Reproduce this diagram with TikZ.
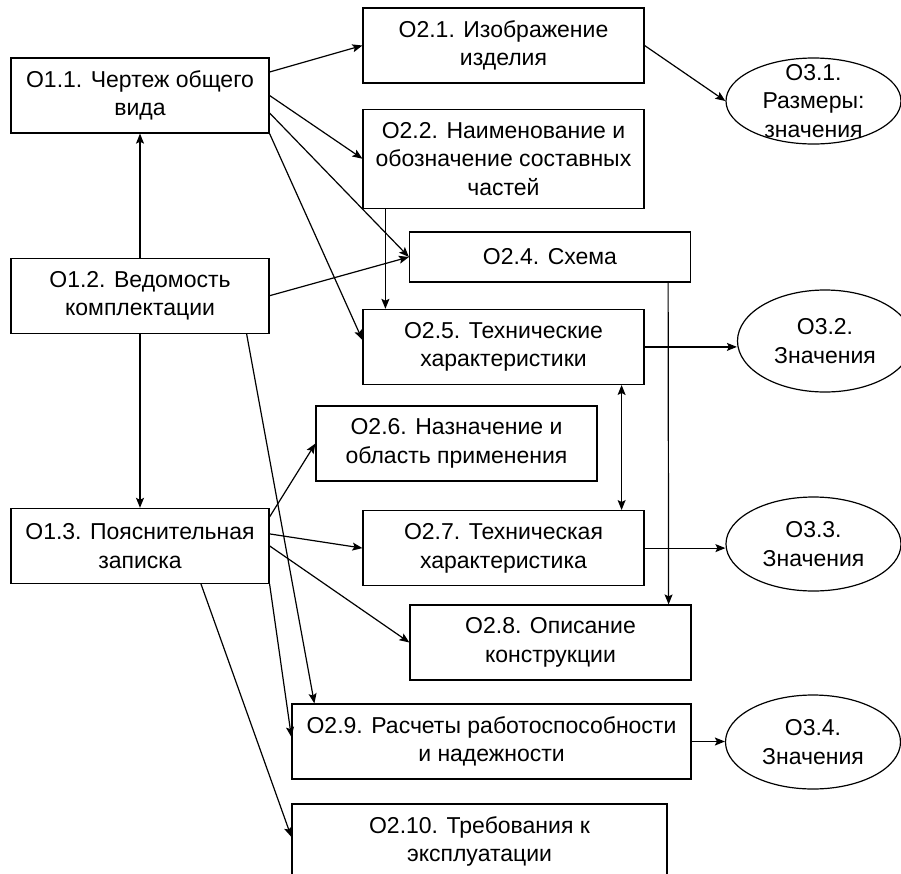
\documentclass[tikz,border=0pt]{standalone}
\usepackage{fontspec}
\setmainfont{Liberation Sans}
\usetikzlibrary{shapes.geometric, arrows.meta, positioning, calc}

\begin{document}
\begin{tikzpicture}[
    x=0.5pt, y=-0.5pt,
    font=\fontsize{11.5}{14.3}\selectfont,
    box/.style={rectangle, draw, line width=0.6pt, align=center,
                minimum width=129pt, minimum height=37.5pt, inner sep=2pt},
    wbox/.style={box, minimum width=140.5pt},
    oval/.style={ellipse, draw, line width=0.6pt, inner sep=0pt,
                 minimum width=87.5pt, minimum height=47pt},
    ovaltext/.style={align=center},
    arrow/.style={-{Stealth[length=5pt, width=4pt, inset=1pt]}, line width=0.6pt},
    biarrow/.style={{Stealth[length=5pt, width=4pt, inset=1pt]}-{Stealth[length=5pt, width=4pt, inset=1pt]}, line width=0.6pt}
]
    \useasboundingbox (0,0) rectangle (901,874);

    % first level
    \node[box] (o11) at (140,95.5) {О1.1. Чертеж общего\\вида};
    \node[box, below=62pt of o11] (o12) {О1.2. Ведомость\\комплектации};
    \node[box, below=87pt of o12] (o13) {О1.3. Пояснительная\\записка};

    % second level
    \node[wbox] (o21) at (503.5,45.5) {О2.1. Изображение\\изделия};
    \node[wbox, minimum height=49.5pt, below=12.5pt of o21] (o22) {О2.2. Наименование и\\обозначение составных\\частей};
    \node[wbox, minimum height=25pt] (o24) at (550,257) {О2.4. Схема};
    \node[wbox, below=50pt of o22] (o25) {О2.5. Технические\\характеристики};
    \node[wbox] (o26) at (456.5,443.5) {О2.6. Назначение и\\область применения};
    \node[wbox, below=62.5pt of o25] (o27) {О2.7. Техническая\\характеристика};
    \node[wbox] (o28) at (550.5,642.5) {О2.8. Описание\\конструкции};
    \node[box, minimum width=199.5pt] (o29) at (491.5,741.5) {О2.9. Расчеты работоспособности\\и надежности};
    \node[box, minimum width=187.5pt] (o210) at (479.5,841.5) {О2.10. Требования к\\эксплуатации};

    % third level
    \node[oval, minimum height=43pt, label={[ovaltext]center:О3.1.\\Размеры:\\значения}] (o31) at (813.5,101) {};
    \node[oval, minimum height=51pt, label={[ovaltext]center:О3.2.\\Значения}] (o32) at (825,341) {};
    \node[oval, label={[ovaltext]center:О3.3.\\Значения}] (o33) at (813.5,544) {};
    \node[oval, label={[ovaltext]center:О3.4.\\Значения}] (o34) at (813,742) {};

    \draw[arrow] ($(o11.east)+(0,-23.5)$) -- (o21.west);
    \draw[arrow] (o11.east) -- (o22.west);
    \draw[arrow] ($(o11.east)+(0,17.5)$) -- (o24.west);
    \draw[arrow] (o11.south east) -- ($(o25.west)+(0,-7)$);
    \draw[arrow] (o12) -- (o11);
    \draw[arrow] (o12.east) -- (o24.west);
    \draw[arrow] (o12) -- (o13);
    \draw[arrow] ($(o12.south east)+(-23,0)$) -- ($(o29.north west)+(23,0)$);
    \draw[arrow] (o21.east) -- (o31.west);
    \draw[arrow] ($(o22.south west)+(23,0)$) -- ($(o25.north west)+(23,0)$);
    \draw[arrow] ($(o24.south east)+(-23,0)$) -- ($(o28.north east)+(-23,0)$);
    \draw[arrow] (o25.east) -- (o25.east -| o32.west);
    \draw[biarrow] ($(o25.south east)+(-23,0)$) -- ($(o27.north east)+(-23,0)$);
    \draw[arrow] (o27.east) -- (o27.east -| o33.west);
    \draw[arrow] (o29.east) -- (o29.east -| o34.west);
    \draw[arrow] ($(o13.east)+(0,-29)$) -- (o26.west);
    \draw[arrow] ($(o13.east)+(0,-12)$) -- (o27.west);
    \draw[arrow] (o13.east) -- (o28.west);
    \draw[arrow] (o13.south east) -- ($(o29.west)+(0,-4.5)$);
    \draw[arrow] ($(o13.south)+(61,0)$) -- ($(o210.west)+(0,-4.5)$);
\end{tikzpicture}
\end{document}
